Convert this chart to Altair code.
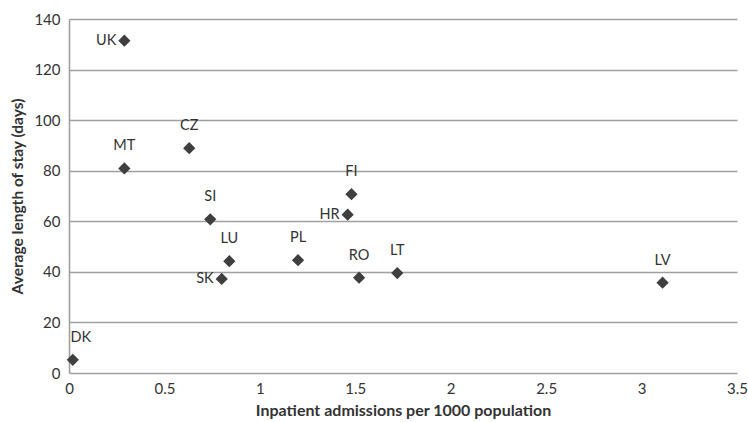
import altair as alt
import pandas as pd

countries = ["UK", "MT", "CZ", "FI", "HR", "SI", "LU", "PL", "SK", "RO", "DK", "LT", "LV"]
admissions = [0.29, 0.29, 0.63, 1.48, 1.46, 0.74, 0.84, 1.20, 0.80, 1.52, 0.02, 1.72, 3.11]
stay = [131.4, 80.9, 88.9, 70.7, 62.6, 60.8, 44.2, 44.6, 37.2, 37.7, 5.2, 39.5, 35.7]
label_pos = ["left", "top", "top", "top", "left", "top", "top", "top", "left", "top", "topright", "top", "top"]
x_ticks = [0, 0.5, 1, 1.5, 2, 2.5, 3, 3.5]
y_ticks = [0, 20, 40, 60, 80, 100, 120, 140]

df = pd.DataFrame({"country": countries, "x": admissions, "y": stay, "pos": label_pos})

x_enc = alt.X("x:Q", scale=alt.Scale(domain=[0, 3.5], nice=False),
              axis=alt.Axis(title="Inpatient admissions per 1000 population",
                            values=x_ticks, grid=False, labelExpr="datum.value + ''",
                            ticks=False, domain=False, labelFlush=False,
                            titleFontSize=16, titlePadding=6))
y_enc = alt.Y("y:Q", scale=alt.Scale(domain=[0, 140], nice=False),
              axis=alt.Axis(title="Average length of stay (days)",
                            values=y_ticks, grid=True,
                            ticks=False, domain=True, labelFlush=False))

points = alt.Chart(df).mark_point(shape="diamond", filled=True, size=150,
                                  color="#3f3f3f", opacity=1).encode(x=x_enc, y=y_enc)

txt = dict(fontSize=14.5, font="Lato", color="#333333")

top_lbl = alt.Chart(df).transform_filter("datum.pos == 'top'").mark_text(
    dy=-22, align="center", **txt
).encode(x="x:Q", y="y:Q", text="country:N")

topright_lbl = alt.Chart(df).transform_filter("datum.pos == 'topright'").mark_text(
    dy=-22, dx=8, align="center", **txt
).encode(x="x:Q", y="y:Q", text="country:N")

left_lbl = alt.Chart(df).transform_filter("datum.pos == 'left'").mark_text(
    dx=-8, align="right", baseline="middle", **txt
).encode(x="x:Q", y="y:Q", text="country:N")

chart = alt.layer(points, top_lbl, topright_lbl, left_lbl).properties(
    width=668, height=354,
    autosize=alt.AutoSizeParams(type="none"),
    padding={"left": 69, "top": 19, "right": 11, "bottom": 49},
).configure_view(stroke=None).configure_axis(
    labelFont="Lato", labelFontSize=15, labelColor="#333333",
    titleFont="Lato", titleFontSize=15.5, titleFontWeight="bold", titleColor="#333333",
    gridColor="#a0a0a0", gridWidth=1.6, gridOpacity=1,
    domainColor="#a0a0a0", domainWidth=1.6,
).configure_axisX(labelPadding=8).configure_axisY(
    labelPadding=9, titlePadding=8)

chart.save("out.html", embed_options={"renderer": "svg", "actions": False})
